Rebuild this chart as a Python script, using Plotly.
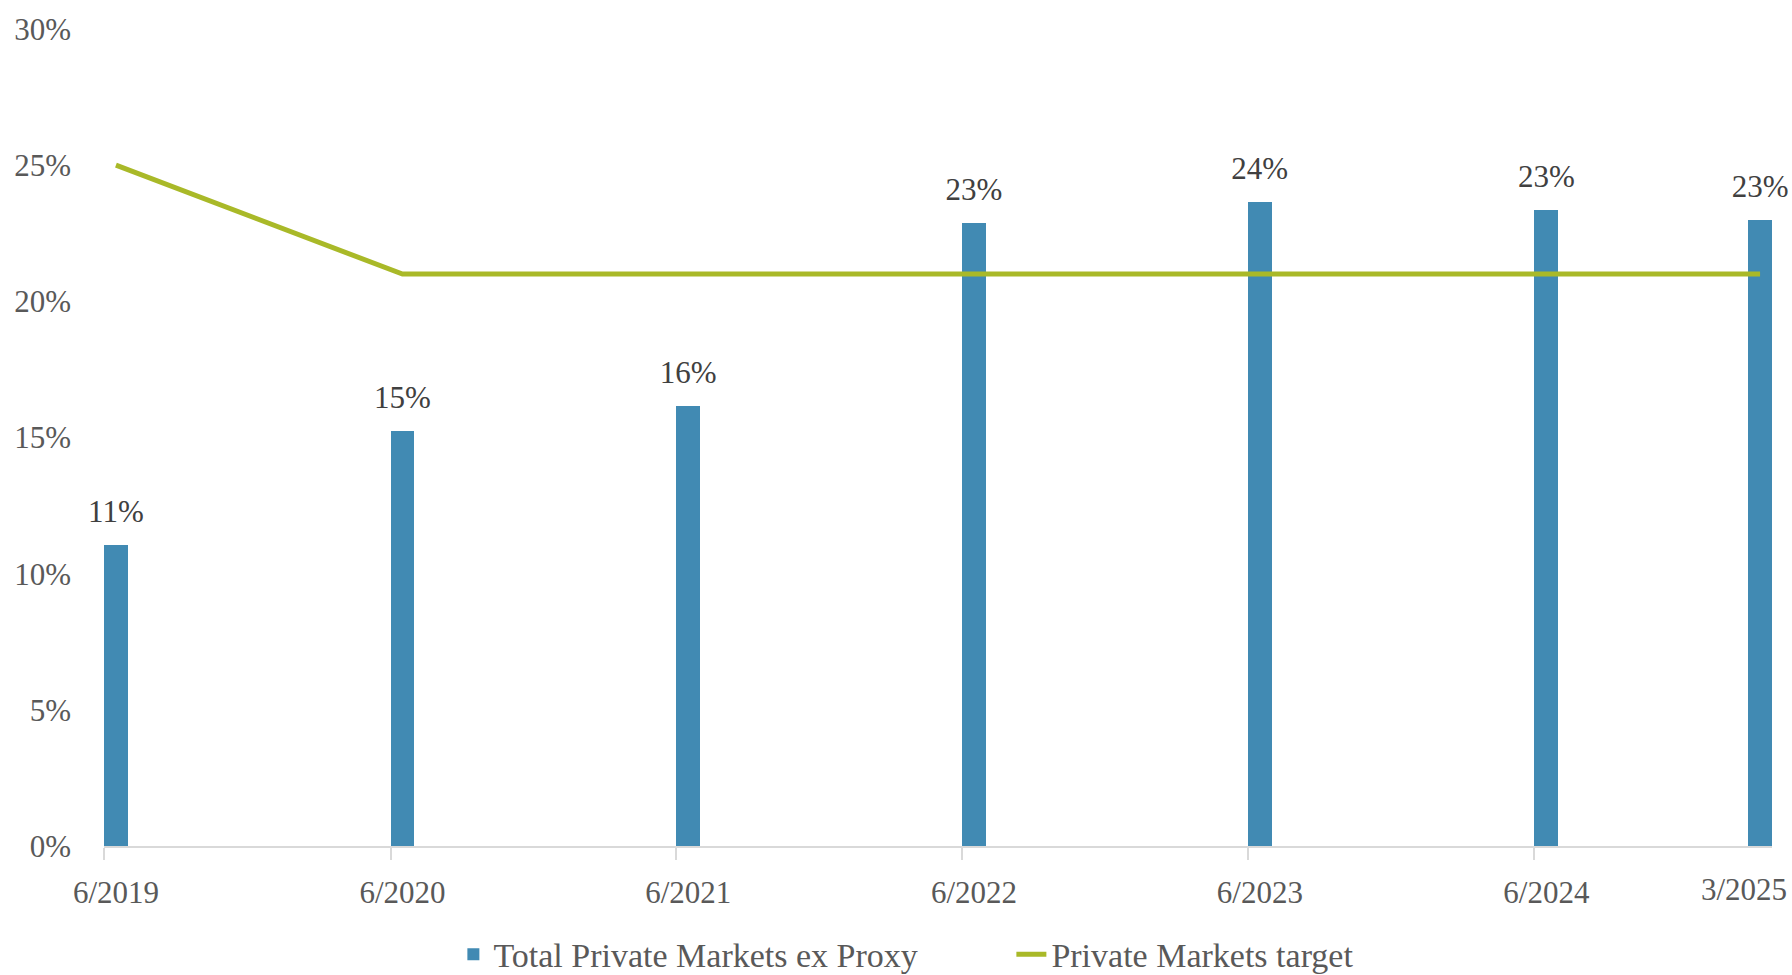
import plotly.graph_objects as go
import pandas as pd

# period ends (first of month used as the date position)
periods = ["2019-06-01", "2020-06-01", "2021-06-01", "2022-06-01",
           "2023-06-01", "2024-06-01", "2025-03-01"]
period_labels = ["6/2019", "6/2020", "6/2021", "6/2022", "6/2023", "6/2024", "3/2025"]

# % of total plan assets
private_markets = [11.06, 15.23, 16.15, 22.87, 23.66, 23.36, 22.99]
private_target = [25, 21, 21, 21, 21, 21, 21]

FONT = "Liberation Serif"
BAR_COLOR = "#418ab3"
LINE_COLOR = "#a9b928"

dates = pd.to_datetime(periods)
bar_days = 30.5
bar_width_ms = bar_days * 24 * 3600 * 1000
# line points and value labels sit at the middle of each bar
mid_dates = dates + pd.Timedelta(days=bar_days / 2)

fig = go.Figure()

fig.add_trace(go.Bar(
    x=dates,
    y=private_markets,
    width=bar_width_ms,
    offset=0,
    name="Total Private Markets ex Proxy",
    marker_color=BAR_COLOR,
    marker_line_width=0,
    hoverinfo="skip",
))

fig.add_trace(go.Scatter(
    x=mid_dates,
    y=private_target,
    mode="lines",
    name="Private Markets target",
    line=dict(color=LINE_COLOR, width=5),
))

# value labels, lifted above the bars by an invisible marker
fig.add_trace(go.Scatter(
    x=mid_dates,
    y=private_markets,
    mode="markers+text",
    marker=dict(size=23, opacity=0),
    text=[f"{v:.0f}%" for v in private_markets],
    textposition="top center",
    textfont=dict(family=FONT, size=31, color="#404040"),
    showlegend=False,
    hoverinfo="skip",
    cliponaxis=False,
))

x_end = dates[-1] + pd.Timedelta(days=bar_days)

fig.update_xaxes(
    type="date",
    range=[dates[0], x_end],
    tickvals=dates[:-1],
    ticktext=period_labels[:-1],
    ticks="outside",
    ticklen=12,
    tickwidth=2,
    tickcolor="#d9d9d9",
    ticklabelshift=12,
    ticklabelstandoff=6,
    showline=True,
    linecolor="#d9d9d9",
    linewidth=2,
    showgrid=False,
    zeroline=False,
    tickfont=dict(family=FONT, size=31, color="#595959"),
)

fig.update_yaxes(
    range=[0, 30],
    dtick=5,
    ticksuffix="%",
    showgrid=False,
    zeroline=False,
    showline=False,
    ticklabelstandoff=32,
    tickfont=dict(family=FONT, size=31, color="#595959"),
)

# last label sits off the regular tick grid, pulled in to fit the page
fig.add_annotation(
    x=dates[-1], y=0, xref="x", yref="paper",
    text=period_labels[-1], showarrow=False,
    xanchor="center", yanchor="top", xshift=-4, yshift=-24,
    font=dict(family=FONT, size=31, color="#595959"),
)

fig.update_layout(
    width=1792,
    height=975,
    template="plotly_white",
    plot_bgcolor="white",
    paper_bgcolor="white",
    bargap=0,
    showlegend=True,
    legend=dict(
        orientation="h",
        xref="container", yref="container",
        x=0.253, xanchor="left",
        y=0.021, yanchor="middle",
        entrywidth=513,
        entrywidthmode="pixels",
        font=dict(family=FONT, size=34, color="#595959"),
        tracegroupgap=0,
    ),
    margin=dict(l=104, r=20, t=24, b=129),
)

# drop the default page margin so the figure fills the window exactly
fig.write_html(
    "out.html",
    config={"displayModeBar": False},
    post_script="document.body.style.margin='0';",
)
